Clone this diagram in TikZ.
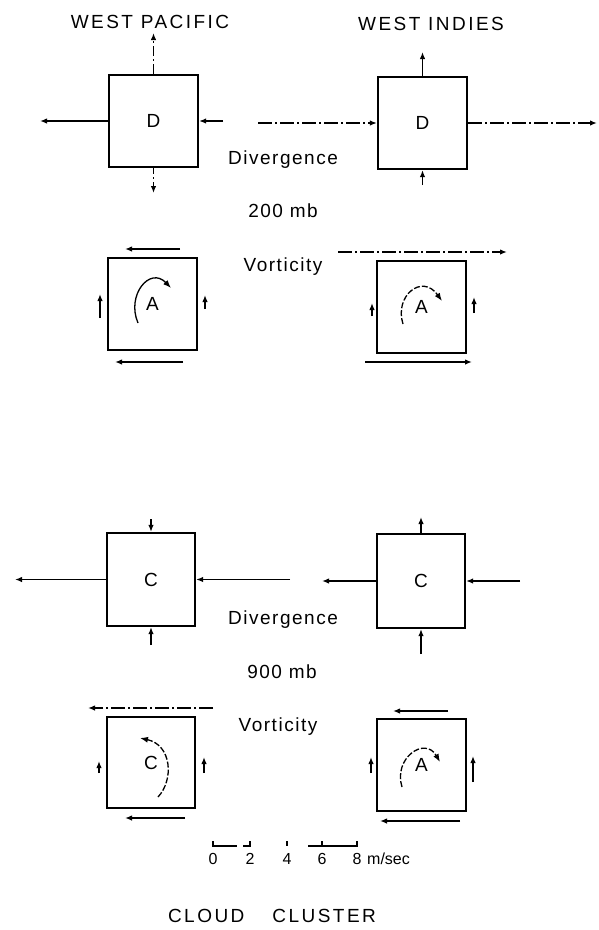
\documentclass[tikz,border=0pt]{standalone}
\usepackage{fontspec}
\setmainfont{Liberation Sans}
\usetikzlibrary{arrows.meta}
\tikzset{
  box/.style={draw, line width=2.2pt, minimum width=89pt, minimum height=92pt, inner sep=0pt, font=\fontsize{19}{22}\selectfont},
  wind/.style={line width=1.5pt, -{Latex[length=7pt,width=5.5pt]}},
  dd/.style={dash pattern=on 14pt off 3pt on 2pt off 3pt},
  lbl/.style={font=\fontsize{19}{22}\selectfont\addfontfeatures{LetterSpace=8}, inner sep=0pt},
  ttl/.style={font=\fontsize{19}{22}\selectfont\addfontfeatures{LetterSpace=13}, inner sep=0pt},
  num/.style={font=\fontsize{16}{18}\selectfont, inner sep=0pt},
  swirl/.style={line width=1.3pt, dash pattern=on 6pt off 2pt, -{Latex[length=8pt,width=6pt]}},
}
\begin{document}
\begin{tikzpicture}[x=1pt,y=-1pt]
\useasboundingbox (0,0) rectangle (598,930);
% titles
\node[ttl] (tWP) at (150,22) {WEST PACIFIC};
\node[ttl] (tWI) at (431,24) {WEST INDIES};
% ---------- 200 mb divergence ----------
\node[box] (wpD) at (153.5,121) {D};
\node[box] (wiD) at (422.5,123) {D};
\coordinate (wpDup) at (153.5,33);
\coordinate (wpDdn) at (153.5,193);
\coordinate (wpDl) at (40,121);
\coordinate (wpDr) at (223,121);
\draw[wind, dash pattern=on 10pt off 3pt on 2pt off 3pt] (wpD.north) -- (wpDup);
\draw[wind, dash pattern=on 6pt off 3pt on 2pt off 3pt] (wpD.south) -- (wpDdn);
\draw[wind] (wpD.west) -- (wpDl);
\draw[wind] (wpDr) -- (wpD.east);
\coordinate (wiDup) at (422.5,52);
\coordinate (wiDdn) at (422.5,185);
\coordinate (wiDl) at (258,123);
\coordinate (wiDr) at (597,123);
\draw[wind] (wiD.north) -- (wiDup);
\draw[wind] (wiDdn) -- (wiD.south);
\draw[wind, dd] (wiDl) -- (wiD.west);
\draw[wind, dd] (wiD.east) -- (wiDr);
\node[lbl] (div2) at (283,160) {Divergence};
\node[lbl] (mb2) at (283,211) {200 mb};
% ---------- 200 mb vorticity ----------
\node[lbl] (vor2) at (283,267) {Vorticity};
\node[box] (wpA) at (152.5,304) {A};
\node[box] (wiA) at (421.5,307) {A};
\coordinate (a1) at (180,249); \coordinate (a2) at (125,249);
\coordinate (a3) at (183,362); \coordinate (a4) at (115,362);
\coordinate (a5) at (100,318); \coordinate (a6) at (100,294);
\coordinate (a7) at (205,309); \coordinate (a8) at (205,295);
\draw[wind] (a1) -- (a2);
\draw[wind] (a3) -- (a4);
\draw[wind] (a5) -- (a6);
\draw[wind] (a7) -- (a8);
\coordinate (s1) at (138,323); \coordinate (s2) at (171,288);
\draw[swirl, solid] (s1) .. controls (126,295) and (150,266) .. (s2);
\coordinate (b1) at (338,252); \coordinate (b2) at (507,252);
\coordinate (b3) at (365,362); \coordinate (b4) at (472,362);
\coordinate (b5) at (372,316); \coordinate (b6) at (372,303);
\coordinate (b7) at (474,313); \coordinate (b8) at (474,297);
\draw[wind, dd] (b1) -- (b2);
\draw[wind] (b3) -- (b4);
\draw[wind] (b5) -- (b6);
\draw[wind] (b7) -- (b8);
\coordinate (s3) at (403,324); \coordinate (s4) at (442,301);
\draw[swirl] (s3) .. controls (394,296) and (422,273) .. (s4);
% ---------- 900 mb divergence ----------
\node[box, minimum width=88pt, minimum height=93pt] (wpC) at (151,579.5) {C};
\node[box, minimum width=88pt, minimum height=94pt] (wiC) at (421,581) {C};
\coordinate (c1) at (151,519); \coordinate (c2) at (151,645);
\coordinate (c3) at (15,579.5); \coordinate (c4) at (290,579.5);
\draw[wind] (c1) -- (wpC.north);
\draw[wind] (c2) -- (wpC.south);
\draw[wind] (wpC.west) -- (c3);
\draw[wind] (c4) -- (wpC.east);
\coordinate (d1) at (421,517); \coordinate (d2) at (421,654);
\coordinate (d3) at (322,581); \coordinate (d4) at (520,581);
\draw[wind] (wiC.north) -- (d1);
\draw[wind] (d2) -- (wiC.south);
\draw[wind] (wiC.west) -- (d3);
\draw[wind] (d4) -- (wiC.east);
\node[lbl] (div9) at (283,620) {Divergence};
\node[lbl] (mb9) at (282,672) {900 mb};
% ---------- 900 mb vorticity ----------
\node[lbl] (vor9) at (278,727) {Vorticity};
\node[box, minimum width=88pt, minimum height=91pt] (wpV) at (151,762.5) {C};
\node[box] (wiV) at (421.5,765) {A};
\coordinate (e1) at (213,708); \coordinate (e2) at (88,708);
\coordinate (e3) at (185,818); \coordinate (e4) at (125,818);
\coordinate (e5) at (99,773); \coordinate (e6) at (99,761);
\coordinate (e7) at (204,773); \coordinate (e8) at (204,757);
\draw[wind, dd] (e1) -- (e2);
\draw[wind] (e3) -- (e4);
\draw[wind] (e5) -- (e6);
\draw[wind] (e7) -- (e8);
\coordinate (s5) at (158,797); \coordinate (s6) at (140,738);
\draw[swirl] (s5) .. controls (174,780) and (172,745) .. (s6);
\coordinate (f1) at (448,711); \coordinate (f2) at (393,711);
\coordinate (f3) at (460,821); \coordinate (f4) at (380,821);
\coordinate (f5) at (371,773); \coordinate (f6) at (371,757);
\coordinate (f7) at (473,782); \coordinate (f8) at (473,756);
\draw[wind] (f1) -- (f2);
\draw[wind] (f3) -- (f4);
\draw[wind] (f5) -- (f6);
\draw[wind] (f7) -- (f8);
\coordinate (s7) at (402,787); \coordinate (s8) at (440,762);
\draw[swirl] (s7) .. controls (393,758) and (425,736) .. (s8);
% ---------- scale ----------
\draw[line width=1.1pt] (213,841) -- (213,846) -- (237,846);
\draw[line width=1.1pt] (243,846) -- (250,846) -- (250,841);
\draw[line width=1.1pt] (287,841) -- (287,846);
\draw[line width=1.1pt] (308,846) -- (357,846) -- (357,841);
\draw[line width=1.1pt] (322,841) -- (322,846);
\node[num] (n0) at (213,859) {0};
\node[num] (n2) at (250,859) {2};
\node[num] (n4) at (287,859) {4};
\node[num] (n6) at (322,859) {6};
\node[num] (n8) at (357,859) {8};
\node[num, anchor=west] (ms) at (367,859) {m/sec};
\node[ttl] (cc) at (272,916) {CLOUD\hspace{28pt}CLUSTER};
\end{tikzpicture}
\end{document}
